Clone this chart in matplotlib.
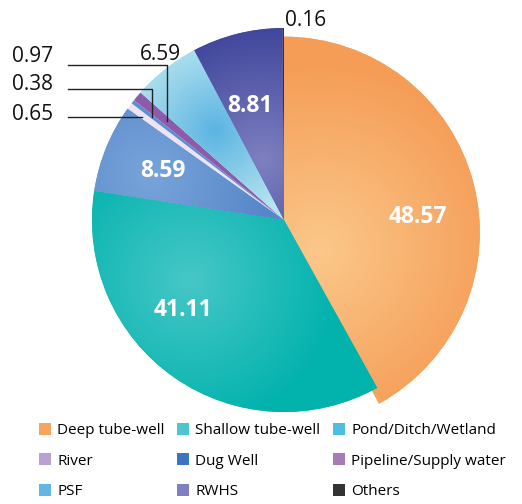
import matplotlib
matplotlib.use("Agg")
import matplotlib.pyplot as plt
from matplotlib.patches import Patch
from matplotlib.colors import to_rgb
import numpy as np

# Share of households by drinking-water source
sources = ["Deep tube-well", "Shallow tube-well", "Pond/Ditch/Wetland", "River",
           "Dug Well", "Pipeline/Supply water", "PSF", "RWHS", "Others"]
shares = [48.57, 41.11, 8.59, 0.65, 0.38, 0.97, 6.59, 8.81, 0.16]
value_labels = ["48.57", "41.11", "8.59", "0.65", "0.38", "0.97", "6.59", "8.81", "0.16"]

slice_colors = ["#F7A862", "#1DB8B4", "#6796D0", "#EDE3F3", "#5B8FD3",
                "#8D5BAA", "#A9DDEC", "#5C5EAD", "#333333"]
legend_colors = ["#F7A45C", "#4EC5CF", "#4EBDE5", "#B9A2D3", "#3A76C0",
                 "#A67CB8", "#62B5E5", "#7F80C0", "#333333"]

# radial shading for the large slices: focus (px), inner colour, outer colour, reach (px)
shading = {
    0: ((320, 250), "#FBC88A", "#F59C56", 190),
    1: ((190, 280), "#46C7C7", "#02B2AD", 150),
    2: ((150, 175), "#78A4DA", "#5787C9", 120),
    6: ((215, 130), "#5BB4E2", "#B7E5EF", 95),
    7: ((262, 160), "#7E80C0", "#41479C", 130),
}

FONT = ["Open Sans", "DejaVu Sans"]

W, H = 522, 504
CX, CY, R = 284, 220, 192          # pie centre and radius in pixels


def to_data(px, py):
    return (px - CX) / R, (CY - py) / R


fig = plt.figure(figsize=(W / 100, H / 100), dpi=100)
ax = fig.add_axes([0, 0, 1, 1])

wedges, _ = ax.pie(shares, colors=slice_colors, startangle=90, counterclock=False,
                   radius=1.0, wedgeprops=dict(linewidth=0))

# the largest slice sits a little lower and wider than the rest
wedges[0].set_radius(1.02)
wedges[0].set_center((0, -0.065))
wedges[0].set_zorder(0.5)

xmin, xmax = -CX / R, (W - CX) / R
ymin, ymax = -(H - CY) / R, CY / R
gx, gy = np.meshgrid(np.linspace(xmin, xmax, W), np.linspace(ymax, ymin, H))
for i, ((fx, fy), c_in, c_out, reach) in shading.items():
    fxd, fyd = to_data(fx, fy)
    t = np.clip(np.hypot(gx - fxd, gy - fyd) / (reach / R), 0, 1)[..., None]
    rgb = (1 - t) * np.array(to_rgb(c_in)) + t * np.array(to_rgb(c_out))
    im = ax.imshow(rgb, extent=(xmin, xmax, ymin, ymax), origin="upper",
                   interpolation="bilinear", zorder=wedges[i].get_zorder() + 0.05)
    im.set_clip_path(wedges[i])

# white values inside the big slices
inner = {0: (418, 217), 1: (183, 310), 2: (163, 171), 7: (250, 106)}
for i, (px, py) in inner.items():
    x, y = to_data(px, py)
    ax.text(x, y, value_labels[i], color="white", fontsize=16.5, fontweight="bold",
            ha="center", va="center", family=FONT, zorder=4)

# outside values for the thin slices, with leader lines
total = sum(shares)
cum = np.cumsum([0] + shares)


def mid_point(i, r):
    ang = np.deg2rad(90 - 360 * (cum[i] + cum[i + 1]) / 2 / total)
    return r * np.cos(ang), r * np.sin(ang)


leaders = {5: (57, 65, 0.80), 4: (84, 89, 0.87), 3: (114, 117, 0.92)}
for i, (ty, ly, r) in leaders.items():
    tx, tyd = to_data(12, ty)
    ax.text(tx, tyd, value_labels[i], fontsize=15, ha="left", va="center",
            color="#111111", family=FONT)
    ex, ey = mid_point(i, r)
    sx, sy = to_data(68, ly)
    if i == 3:
        ax.plot([sx, ex], [sy, sy], color="#222222", lw=1.0, zorder=3)
    else:
        ax.plot([sx, ex, ex], [sy, sy, ey], color="#222222", lw=1.0, zorder=3)

x, y = to_data(160, 55)
ax.text(x, y, value_labels[6], fontsize=15, ha="center", va="center",
        color="#111111", family=FONT)
x, y = to_data(285, 20)
ax.text(x, y, value_labels[8], fontsize=15, ha="left", va="center",
        color="#111111", family=FONT)

ax.set_xlim(xmin, xmax)
ax.set_ylim(ymin, ymax)
ax.set_aspect("auto")
ax.axis("off")

# legend, three columns filled row by row
order = [0, 3, 6, 1, 4, 7, 2, 5, 8]
handles = [Patch(facecolor=legend_colors[i], edgecolor="none", label=sources[i])
           for i in order]
fig.legend(handles=handles, loc="upper left", bbox_to_anchor=(39 / W, 1 - 423 / H),
           ncol=3, frameon=False, prop={"family": FONT, "size": 11.0},
           handlelength=0.8, handleheight=0.8, handletextpad=0.4,
           columnspacing=0.8, labelspacing=1.0, borderpad=0, borderaxespad=0)

fig.savefig("out.png", dpi=100)
